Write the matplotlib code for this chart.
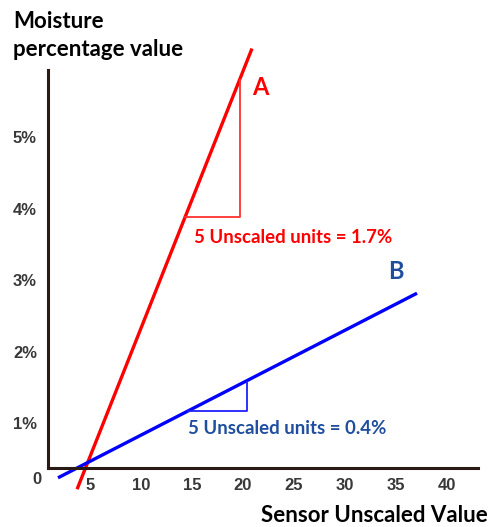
import matplotlib.pyplot as plt
import numpy as np

# line A (red) and line B (blue)
a_x = [3.73, 20.88]
a_y = [0.08, 6.24]
b_x = [1.86, 37.06]
b_y = [0.24, 2.82]

# slope triangles
a_tri_x = [14.31, 19.71, 19.71]
a_tri_y = [3.88, 3.88, 5.80]
b_tri_x = [14.61, 20.39, 20.39]
b_tri_y = [1.17, 1.17, 1.58]

x_ticks = [5, 10, 15, 20, 25, 30, 35, 40]
y_ticks = [1, 2, 3, 4, 5]
y_labels = ['1%', '2%', '3%', '4%', '5%']

fig = plt.figure(figsize=(4.9, 5.27), dpi=100)
ax = fig.add_axes([48/490, 59/527, 430/490, 398/527])

ax.plot(a_x, a_y, color='#ff0000', lw=2.4, clip_on=False, solid_capstyle='butt')
ax.plot(b_x, b_y, color='#0000ff', lw=2.4, clip_on=False, solid_capstyle='butt')
ax.plot(a_tri_x, a_tri_y, color='#ff3030', lw=1.3)
ax.plot(b_tri_x, b_tri_y, color='#2020ff', lw=1.3)

ax.set_xlim(0.88, 43.04)
ax.set_ylim(0.377, 5.94)

for s in ['top', 'right']:
    ax.spines[s].set_visible(False)
for s in ['left', 'bottom']:
    ax.spines[s].set_color('#2a1a14')
    ax.spines[s].set_linewidth(2.2)

ax.set_xticks(x_ticks)
ax.set_xticklabels([str(t) for t in x_ticks])
ax.set_yticks(y_ticks)
ax.set_yticklabels(y_labels)
ax.tick_params(length=0, labelsize=12, colors='#383838')
ax.tick_params(axis='x', pad=7)
ax.tick_params(axis='y', pad=8)
for lab in ax.get_xticklabels() + ax.get_yticklabels():
    lab.set_fontfamily('Liberation Sans')
    lab.set_fontweight('bold')
ax.text(-0.2, 0.21, '0', ha='center', va='center', fontsize=12,
        fontweight='bold', family='Liberation Sans', color='#383838')

ax.text(21.67, 5.69, 'A', color='#ff0000', fontsize=17, fontweight='bold',
        family='Lato', ha='center', va='center')
ax.text(34.2, 3.12, 'B', color='#1f4e9e', fontsize=17, fontweight='bold',
        family='Lato', ha='left', va='center')
ax.text(15.2, 3.6, '5 Unscaled units = 1.7%', color='#ff0000', fontsize=13.4,
        fontweight='bold', family='Lato', ha='left', va='center')
ax.text(14.6, 0.93, '5 Unscaled units = 0.4%', color='#1f4e9e', fontsize=13.4,
        fontweight='bold', family='Lato', ha='left', va='center')

fig.text(13/490, 1 - 22/527, 'Moisture', fontsize=16, fontweight='bold',
         family='Lato', va='center', ha='left')
fig.text(13/490, 1 - 50/527, 'percentage value', fontsize=16, fontweight='bold',
         family='Lato', va='center', ha='left')
fig.text(488/490, 1 - 515/527, 'Sensor Unscaled Value', fontsize=16,
         fontweight='bold', family='Lato', va='center', ha='right')

fig.savefig('out.png', dpi=100)
